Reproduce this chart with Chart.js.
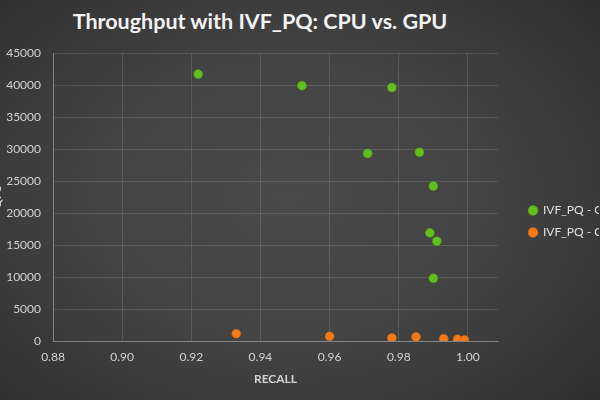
<!DOCTYPE html>
<html>
<head>
<meta charset="utf-8">
<script src="https://cdn.jsdelivr.net/npm/chart.js@4/dist/chart.umd.min.js"></script>
<style>
  html, body { margin: 0; padding: 0; }
  body {
    width: 600px; height: 400px; overflow: hidden; position: relative;
    background: radial-gradient(ellipse 70% 75% at 48% 50%, #4a4a4a 0%, #444 45%, #353535 85%, #2e2e2e 100%);
  }
  #title {
    position: absolute; left: 0; top: 8px; width: 520px; text-align: center;
    font-family: Lato, sans-serif; font-weight: bold; font-size: 21.5px; color: #f4f4f4;
  }
  #wrap { position: absolute; left: -10px; top: 0; width: 609px; height: 400px; }
</style>
</head>
<body>
<div id="title">Throughput with IVF_PQ: CPU vs. GPU</div>
<div id="wrap"><canvas id="qpsChart"></canvas></div>
<script>
const gpuRecall = [0.922, 0.952, 0.978, 0.971, 0.986, 0.990, 0.989, 0.991, 0.990];
const gpuQps = [41700, 39900, 39600, 29300, 29500, 24200, 16900, 15600, 9800];
const cpuRecall = [0.933, 0.960, 0.978, 0.985, 0.993, 0.997, 0.999];
const cpuQps = [1150, 730, 470, 630, 360, 260, 160];
const seriesNames = ['IVF_PQ - GPU', 'IVF_PQ - CPU'];

const toPoints = (xs, ys) => xs.map((x, i) => ({ x: x, y: ys[i] }));
const tickColor = '#d2d2d2';
const gridColor = 'rgba(255, 255, 255, 0.12)';

new Chart(document.getElementById('qpsChart'), {
    type: 'scatter',
    data: {
        datasets: [{
            label: seriesNames[0],
            data: toPoints(gpuRecall, gpuQps),
            backgroundColor: '#62bf1c',
            borderColor: '#4f9c16',
            borderWidth: 0.5,
            pointRadius: 4.5
        }, {
            label: seriesNames[1],
            data: toPoints(cpuRecall, cpuQps),
            backgroundColor: '#f47a16',
            borderColor: '#c96010',
            borderWidth: 0.5,
            pointRadius: 4.5
        }]
    },
    options: {
        responsive: true,
        maintainAspectRatio: false,
        animation: false,
        layout: { padding: { top: 53, bottom: 10, left: 0, right: 0 } },
        scales: {
            x: {
                type: 'linear',
                min: 0.88,
                max: 1.0087,
                afterFit: s => { s.height = 49; },
                grid: { color: gridColor, drawTicks: false },
                border: { color: 'rgba(255, 255, 255, 0.28)' },
                ticks: {
                    stepSize: 0.02,
                    includeBounds: false,
                    padding: 9,
                    color: tickColor,
                    font: { family: 'Lato', size: 12 },
                    callback: v => v.toFixed(2)
                },
                title: {
                    display: true,
                    text: 'RECALL',
                    color: tickColor,
                    padding: { top: 0, bottom: 4 },
                    font: { family: 'Lato', size: 12, weight: 'bold' }
                }
            },
            y: {
                min: 0,
                max: 45000,
                afterFit: s => { s.width = 63; },
                grid: { color: gridColor, drawTicks: false },
                border: { color: 'rgba(255, 255, 255, 0.28)' },
                ticks: {
                    stepSize: 5000,
                    padding: 12,
                    color: tickColor,
                    font: { family: 'Lato', size: 12 },
                    callback: v => String(v)
                },
                title: {
                    display: true,
                    text: 'QPS',
                    color: tickColor,
                    padding: 0,
                    font: { family: 'Lato', size: 12, weight: 'bold' }
                }
            },
            gap: {
                type: 'linear',
                position: 'right',
                afterFit: s => { s.width = 21; },
                grid: { display: false },
                border: { display: false },
                ticks: { display: false }
            }
        },
        plugins: {
            legend: {
                position: 'right',
                maxWidth: 80,
                labels: {
                    usePointStyle: true,
                    pointStyle: 'circle',
                    boxWidth: 8,
                    boxHeight: 7,
                    padding: 10,
                    color: '#e0e0e0',
                    font: { family: 'Lato', size: 12 }
                }
            },
            tooltip: { enabled: false }
        }
    }
});
</script>
</body>
</html>
